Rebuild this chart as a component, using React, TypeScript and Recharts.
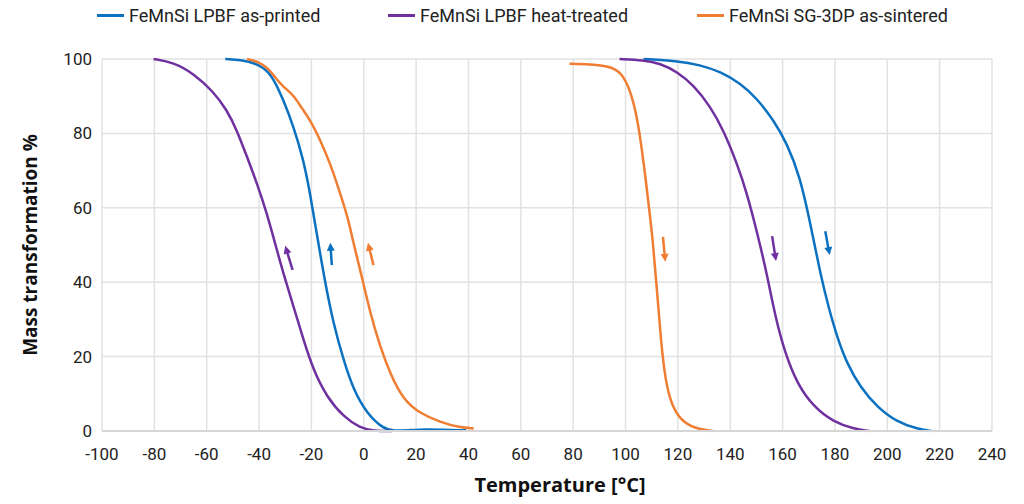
import React from 'react';
import { LineChart, Line, XAxis, YAxis, CartesianGrid, ReferenceLine } from 'recharts';

type Pt = { t: number; v: number };

const seriesNames = ['FeMnSi LPBF as-printed', 'FeMnSi LPBF heat-treated', 'FeMnSi SG-3DP as-sintered'];
const seriesColors = ['#0b71c1', '#7031a0', '#ef7d32'];

const xTicks = [-100, -80, -60, -40, -20, 0, 20, 40, 60, 80, 100, 120, 140, 160, 180, 200, 220, 240];
const yTicks = [0, 20, 40, 60, 80, 100];

// LPBF as-printed: cooling (left) and heating (right) branches
const printedCooling: Pt[] = [
  { t: -52.9, v: 100 }, { t: -43.4, v: 99.5 }, { t: -37.7, v: 97.5 }, { t: -34.5, v: 94.8 },
  { t: -30.7, v: 89 }, { t: -26.8, v: 81.8 }, { t: -23, v: 72.8 }, { t: -20.5, v: 63.9 },
  { t: -17.6, v: 51.5 }, { t: -14.7, v: 39.7 }, { t: -11.6, v: 28.9 }, { t: -7.7, v: 19 },
  { t: -3.9, v: 11 }, { t: 1.2, v: 4.7 }, { t: 7.5, v: 0.6 }, { t: 11.4, v: 0 },
  { t: 17, v: 0.2 }, { t: 24.1, v: 0.5 }, { t: 30, v: 0.3 }, { t: 39.1, v: 0.2 },
];
const printedHeating: Pt[] = [
  { t: 106.9, v: 100 }, { t: 119.6, v: 99.5 }, { t: 128.5, v: 98.4 }, { t: 136.2, v: 96.6 },
  { t: 143.8, v: 93.5 }, { t: 150.2, v: 89.4 }, { t: 156.5, v: 83.6 }, { t: 161.7, v: 77.3 },
  { t: 166.7, v: 68.3 }, { t: 170.6, v: 55.8 }, { t: 174.4, v: 42.3 }, { t: 177.5, v: 33.4 },
  { t: 180.8, v: 25.3 }, { t: 184.6, v: 18.1 }, { t: 189.7, v: 11.8 }, { t: 196, v: 6.5 },
  { t: 203.7, v: 2.4 }, { t: 211.3, v: 0.6 }, { t: 217, v: 0 },
];

// LPBF heat-treated
const treatedCooling: Pt[] = [
  { t: -80.3, v: 100 }, { t: -72.7, v: 99.1 }, { t: -65, v: 96.1 }, { t: -57.4, v: 91.2 },
  { t: -52.3, v: 86.3 }, { t: -48.5, v: 80.9 }, { t: -44.6, v: 73.7 }, { t: -40.8, v: 66.6 },
  { t: -37, v: 58.5 }, { t: -33.9, v: 50.5 }, { t: -30.7, v: 42.3 }, { t: -26.8, v: 33.4 },
  { t: -23, v: 24.4 }, { t: -19.2, v: 16.3 }, { t: -14.1, v: 9.1 }, { t: -7.7, v: 3.8 },
  { t: -1.4, v: 0.8 }, { t: 3.7, v: 0 }, { t: 10.8, v: 0 },
];
const treatedHeating: Pt[] = [
  { t: 97.7, v: 100 }, { t: 106.9, v: 99.7 }, { t: 113.3, v: 98.8 }, { t: 119.6, v: 96.6 },
  { t: 126, v: 93 }, { t: 132.4, v: 87.2 }, { t: 137.4, v: 80.9 }, { t: 142.6, v: 71.9 },
  { t: 146.4, v: 63.9 }, { t: 150.4, v: 53 }, { t: 154, v: 42.3 }, { t: 157.2, v: 30.7 },
  { t: 161, v: 20.8 }, { t: 165.5, v: 12.8 }, { t: 171.8, v: 6.5 }, { t: 179.5, v: 2.4 },
  { t: 187.1, v: 0.6 }, { t: 193.2, v: 0 },
];

// SG-3DP as-sintered
const sinteredCooling: Pt[] = [
  { t: -44.6, v: 100 }, { t: -40.2, v: 99.3 }, { t: -36.4, v: 97.5 }, { t: -33.2, v: 94.4 },
  { t: -30.7, v: 92.5 }, { t: -26.8, v: 90.3 }, { t: -23.6, v: 86.7 }, { t: -20.5, v: 83.6 },
  { t: -16.6, v: 78.2 }, { t: -12.8, v: 71.9 }, { t: -9, v: 63.9 }, { t: -5.8, v: 56.7 },
  { t: -4.3, v: 51.5 }, { t: -0.7, v: 41.4 }, { t: 2.5, v: 31.6 }, { t: 6.3, v: 22.6 },
  { t: 10.1, v: 15.4 }, { t: 15.2, v: 8.3 }, { t: 21.6, v: 4.7 }, { t: 29.2, v: 2.4 },
  { t: 36.8, v: 0.9 }, { t: 42, v: 0.7 },
];
const sinteredHeating: Pt[] = [
  { t: 78.6, v: 98.7 }, { t: 94.2, v: 98.4 }, { t: 98.6, v: 96.1 }, { t: 101.8, v: 91.7 },
  { t: 104.4, v: 84.5 }, { t: 106.3, v: 75.5 }, { t: 107.9, v: 66.6 }, { t: 109.2, v: 58.5 },
  { t: 110.4, v: 51.5 }, { t: 112, v: 37.9 }, { t: 113.5, v: 24.4 }, { t: 115.2, v: 13.6 },
  { t: 117.7, v: 6.5 }, { t: 122.2, v: 2 }, { t: 128.5, v: 0.4 }, { t: 133.4, v: 0 },
];

// Direction arrows: series index, tail (t1, v1) -> head (t2, v2)
const arrows = [
  { s: 1, t1: -27.2, v1: 43.3, t2: -30, v2: 49.8 },
  { s: 0, t1: -12.2, v1: 44.6, t2: -12.8, v2: 50.6 },
  { s: 2, t1: 3.7, v1: 44.6, t2: 1.6, v2: 50.6 },
  { s: 2, t1: 114.3, v1: 52.2, t2: 115.2, v2: 45.5 },
  { s: 1, t1: 156, v1: 52.4, t2: 157.5, v2: 45.7 },
  { s: 0, t1: 176.3, v1: 53.7, t2: 178, v2: 47.3 },
];

const branches = [
  { s: 0, data: printedCooling }, { s: 0, data: printedHeating },
  { s: 1, data: treatedCooling }, { s: 1, data: treatedHeating },
  { s: 2, data: sinteredCooling }, { s: 2, data: sinteredHeating },
];

const tickFont = 'Roboto, "Liberation Sans", sans-serif';
const titleFont = '"Open Sans", "DejaVu Sans", sans-serif';

const ArrowShape = (props: any) => {
  const { x1, y1, x2, y2, stroke } = props;
  const dx = x2 - x1;
  const dy = y2 - y1;
  const len = Math.sqrt(dx * dx + dy * dy) || 1;
  const ux = dx / len;
  const uy = dy / len;
  const head = 8;
  const half = 4;
  const bx = x2 - ux * head;
  const by = y2 - uy * head;
  const px = -uy * half;
  const py = ux * half;
  return (
    <g>
      <line x1={x1} y1={y1} x2={bx + ux} y2={by + uy} stroke={stroke} strokeWidth={2.5} />
      <polygon points={`${x2},${y2} ${bx + px},${by + py} ${bx - px},${by - py}`} fill={stroke} />
    </g>
  );
};

const XTitle = () => (
  <text x={560} y={492} textAnchor="middle" fontFamily={titleFont} fontWeight={700} fontSize={20} fill="#111">
    Temperature [°C]
  </text>
);

const YTitle = () => {
  const cx = 30;
  const cy = 59 + 372 / 2;
  return (
    <text x={cx} y={cy} transform={`rotate(-90 ${cx} ${cy})`} textAnchor="middle" dominantBaseline="central" fontFamily={titleFont} fontWeight={700} fontSize={19} fill="#111">
      Mass transformation %
    </text>
  );
};

const legendLeft = [97, 388, 697];

export default function App() {
  return (
    <div style={{ position: 'absolute', left: 0, top: 0, width: 1024, height: 504, background: '#fff' }}>
      <div style={{ position: 'absolute', left: 0, top: 0, width: 1024, height: 34 }}>
        {seriesNames.map((n, i) => (
          <div key={n} style={{ position: 'absolute', left: legendLeft[i], top: 5, display: 'flex', alignItems: 'center', fontFamily: tickFont, fontSize: 18, color: '#222', whiteSpace: 'nowrap' }}>
            <span style={{ display: 'inline-block', width: 27, height: 3, background: seriesColors[i], marginRight: 5 }} />
            <span>{n}</span>
          </div>
        ))}
      </div>
      <LineChart width={1024} height={504} margin={{ top: 59, right: 32, bottom: 43, left: 0 }}>
        <CartesianGrid stroke="#e2e2e2" strokeWidth={1.5} />
        <XAxis
          dataKey="t"
          type="number"
          domain={[-100, 240]}
          ticks={xTicks}
          interval={0}
          height={30}
          axisLine={{ stroke: '#d6d6d6', strokeWidth: 2 }}
          tickLine={false}
          tickSize={6}
          tickMargin={11}
          tick={{ fontFamily: tickFont, fontSize: 17, fill: '#222' }}
          label={<XTitle />}
        />
        <YAxis
          type="number"
          domain={[0, 100]}
          ticks={yTicks}
          interval={0}
          width={102}
          axisLine={false}
          tickLine={false}
          tickSize={4}
          tickMargin={6}
          tick={{ fontFamily: tickFont, fontSize: 17, fill: '#222' }}
          label={<YTitle />}
        />
        {branches.map((b, i) => (
          <Line
            key={i}
            data={b.data}
            dataKey="v"
            type="basis"
            stroke={seriesColors[b.s]}
            strokeWidth={2.5}
            dot={false}
            activeDot={false}
            isAnimationActive={false}
          />
        ))}
        {arrows.map((a, i) => (
          <ReferenceLine
            key={`a${i}`}
            segment={[{ x: a.t1, y: a.v1 }, { x: a.t2, y: a.v2 }]}
            stroke={seriesColors[a.s]}
            ifOverflow="visible"
            shape={<ArrowShape />}
          />
        ))}
      </LineChart>
    </div>
  );
}
